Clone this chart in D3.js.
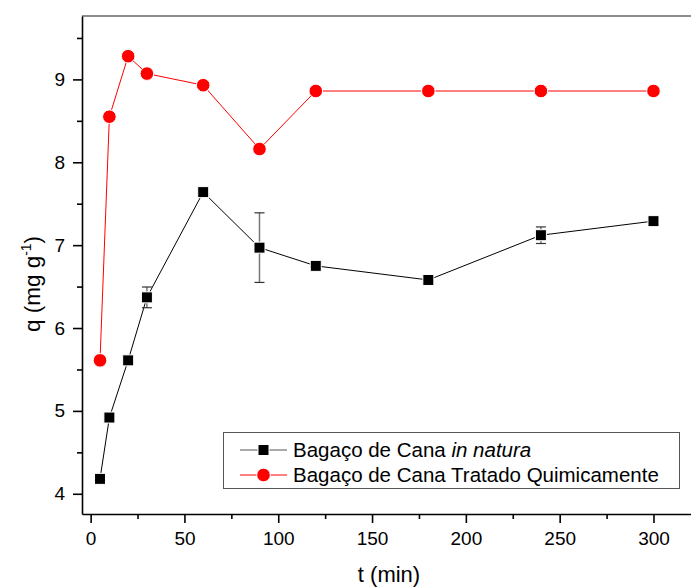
<!DOCTYPE html>
<meta charset="utf-8">
<style>
body { margin: 0; background: #fff; }
svg text { font-family: "Liberation Sans", Arial, sans-serif; fill: #000; }
.axis path, .axis line { stroke: #000; stroke-width: 1.6px; fill: none; }
</style>
<body>
<div id="chart"></div>
<script src="https://d3js.org/d3.v7.min.js"></script>
<script>

// data
var times     = [5, 10, 20, 30, 60, 90, 120, 180, 240, 300];
var natura    = [4.18, 4.92, 5.61, 6.37, 7.64, 6.97, 6.75, 6.58, 7.12, 7.29];
var naturaErr = [0, 0, 0, 0.125, 0, 0.42, 0, 0, 0.10, 0];
var tratado   = [5.61, 8.55, 9.28, 9.07, 8.93, 8.16, 8.86, 8.86, 8.86, 8.86];
var xTicks = [0, 50, 100, 150, 200, 250, 300];
var yTicks = [4, 5, 6, 7, 8, 9];

var width = 691, height = 588;
var margin = {top: 16, right: 0, bottom: 74, left: 82};

var svg = d3.select("#chart").append("svg")
    .attr("width", width)
    .attr("height", height);

var x = d3.scaleLinear().domain([-4.6, 320]).range([margin.left, width - margin.right]);
var y = d3.scaleLinear().domain([3.756, 9.765]).range([height - margin.bottom, margin.top]);

// frame top line (grey)
svg.append("line")
    .attr("x1", margin.left).attr("x2", width)
    .attr("y1", margin.top).attr("y2", margin.top)
    .attr("stroke", "#666").attr("stroke-width", 1.5);

// minor ticks
var xMinor = d3.range(25, 325, 50);
var yMinor = d3.range(4.5, 9.6, 1);

svg.append("g").attr("class", "axis")
    .attr("transform", "translate(0," + (height - margin.bottom) + ")")
    .call(d3.axisBottom(x).tickValues(xMinor).tickSize(5).tickFormat(""))
    .call(g => g.select(".domain").remove());

svg.append("g").attr("class", "axis")
    .attr("transform", "translate(" + margin.left + ",0)")
    .call(d3.axisLeft(y).tickValues(yMinor).tickSize(5).tickFormat(""))
    .call(g => g.select(".domain").remove());

var xAxis = svg.append("g").attr("class", "axis")
    .attr("transform", "translate(0," + (height - margin.bottom) + ")")
    .call(d3.axisBottom(x).tickValues(xTicks).tickSize(9).tickSizeOuter(0).tickPadding(9).tickFormat(d3.format("d")));
xAxis.selectAll("text").style("font-size", "19px");

var yAxis = svg.append("g").attr("class", "axis")
    .attr("transform", "translate(" + margin.left + ",0)")
    .call(d3.axisLeft(y).tickValues(yTicks).tickSize(9).tickSizeOuter(0).tickPadding(8).tickFormat(d3.format("d")));
yAxis.selectAll("text").style("font-size", "19px");

// axis titles
svg.append("text")
    .attr("x", 389)
    .attr("y", 582)
    .attr("text-anchor", "middle")
    .style("font-size", "22px")
    .text("t (min)");

var yt = svg.append("text")
    .attr("transform", "translate(40,284) rotate(-90)")
    .attr("text-anchor", "middle")
    .style("font-size", "22.5px");
yt.append("tspan").text("q (mg g");
yt.append("tspan").attr("dy", -9).style("font-size", "14px").text("-1");
yt.append("tspan").attr("dy", 9).text(")");

var idx = d3.range(times.length);
var line = d3.line();

// series: in natura
svg.append("path")
    .attr("d", line(idx.map(i => [x(times[i]), y(natura[i])])))
    .attr("fill", "none").attr("stroke", "#000").attr("stroke-width", 1);

idx.filter(i => naturaErr[i] > 0).forEach(function(i) {
    var cx = x(times[i]), t = y(natura[i] + naturaErr[i]), b = y(natura[i] - naturaErr[i]);
    var g = svg.append("g").attr("stroke", "#333").attr("stroke-width", 1.2);
    g.append("line").attr("x1", cx).attr("x2", cx).attr("y1", t).attr("y2", b).attr("stroke", "#777").attr("stroke-width", 1.5);
    g.append("line").attr("x1", cx - 5).attr("x2", cx + 5).attr("y1", t).attr("y2", t);
    g.append("line").attr("x1", cx - 5).attr("x2", cx + 5).attr("y1", b).attr("y2", b);
});

svg.selectAll(".sq").data(idx).enter().append("rect")
    .attr("x", i => x(times[i]) - 5.5)
    .attr("y", i => y(natura[i]) - 5.5)
    .attr("width", 11).attr("height", 11)
    .attr("fill", "#000").attr("stroke", "#fff").attr("stroke-width", 1);

// series: tratado
svg.append("path")
    .attr("d", line(idx.map(i => [x(times[i]), y(tratado[i])])))
    .attr("fill", "none").attr("stroke", "#f00").attr("stroke-width", 1);

svg.selectAll(".ci").data(idx).enter().append("circle")
    .attr("cx", i => x(times[i]))
    .attr("cy", i => y(tratado[i]))
    .attr("r", 6.8)
    .attr("fill", "#f00").attr("stroke", "#fff").attr("stroke-width", 1);

// legend
var lg = svg.append("g");
lg.append("rect")
    .attr("x", 223.5).attr("y", 432.5).attr("width", 456).attr("height", 56)
    .attr("fill", "#fff").attr("stroke", "#555").attr("stroke-width", 1);

var row1 = 450, row2 = 475;
lg.append("line").attr("x1", 240).attr("x2", 287).attr("y1", row1).attr("y2", row1).attr("stroke", "#555");
lg.append("rect").attr("x", 258).attr("y", row1 - 5.5).attr("width", 11).attr("height", 11).attr("fill", "#000").attr("stroke", "#fff");
lg.append("line").attr("x1", 240).attr("x2", 287).attr("y1", row2).attr("y2", row2).attr("stroke", "#f00");
lg.append("circle").attr("cx", 263.5).attr("cy", row2).attr("r", 6.8).attr("fill", "#f00").attr("stroke", "#fff");

var t1 = lg.append("text").attr("x", 293).attr("y", row1 + 7).style("font-size", "20.5px");
t1.append("tspan").text("Bagaço de Cana ");
t1.append("tspan").style("font-style", "italic").text("in natura");
lg.append("text").attr("x", 293).attr("y", row2 + 7).style("font-size", "20.5px")
    .text("Bagaço de Cana Tratado Quimicamente");

</script>
</body>
